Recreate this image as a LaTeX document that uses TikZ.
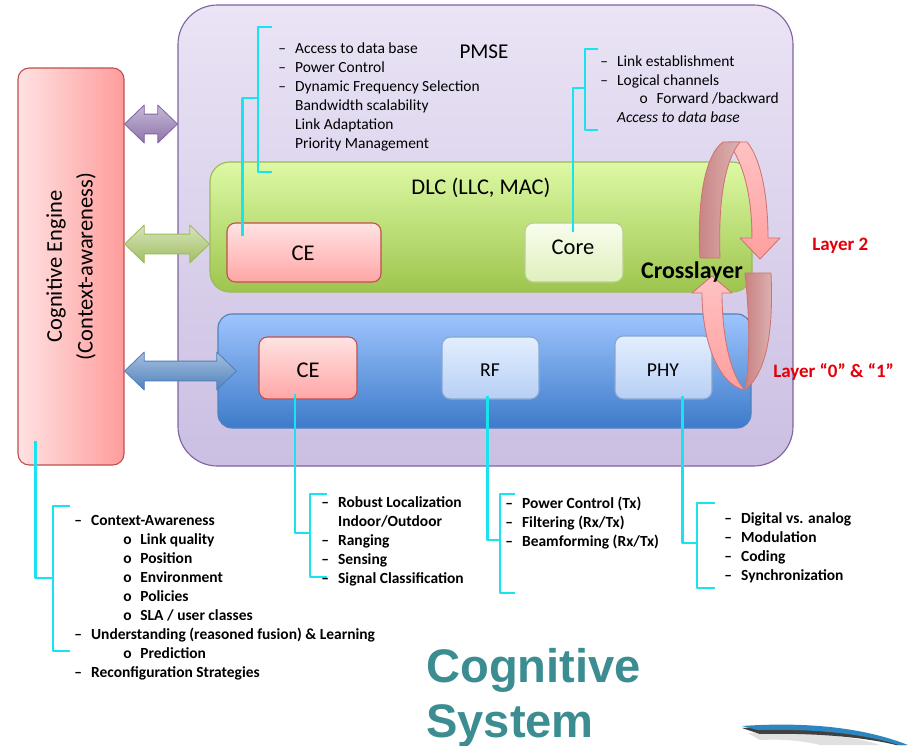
\documentclass[tikz,border=0pt]{standalone}
\usepackage{fontspec}
\setmainfont{Carlito}
\newfontfamily\titlefont{Liberation Sans}
\usetikzlibrary{fit,calc}

\definecolor{pmseTop}{HTML}{EAE4F5}
\definecolor{pmseBot}{HTML}{CBBFE2}
\definecolor{pmseEdge}{HTML}{8064A2}
\definecolor{engL}{HTML}{FFE2E2}
\definecolor{engR}{HTML}{FF9C9C}
\definecolor{redEdge}{HTML}{C0504D}
\definecolor{dlcTop}{HTML}{DDF9A4}
\definecolor{dlcBot}{HTML}{9DC54E}
\definecolor{dlcEdge}{HTML}{9BBB59}
\definecolor{ceTop}{HTML}{FFE3E3}
\definecolor{ceBot}{HTML}{FFA6A6}
\definecolor{coreTop}{HTML}{F8FDEE}
\definecolor{coreBot}{HTML}{DFF0BD}
\definecolor{bluTop}{HTML}{9EC4FD}
\definecolor{bluBot}{HTML}{3D7BCA}
\definecolor{bluEdge}{HTML}{4F81BD}
\definecolor{phyTop}{HTML}{E3EEFE}
\definecolor{phyBot}{HTML}{B7CFF5}
\definecolor{cyanLn}{HTML}{1AE3F0}
\definecolor{loopLt}{HTML}{FFC2C2}
\definecolor{loopLt2}{HTML}{FF9F9F}
\definecolor{loopDk}{HTML}{DDB3B3}
\definecolor{loopDk2}{HTML}{C98282}
\definecolor{layerRed}{HTML}{E3000B}
\definecolor{sysTeal}{HTML}{3B8D92}
\definecolor{swoosh}{HTML}{2E86C1}

\tikzset{
  box/.style={draw, line width=0.8pt, inner sep=0pt},
  pmsebox/.style={box, draw=pmseEdge, top color=pmseTop, bottom color=pmseBot, rounded corners=28pt},
  engbox/.style={box, draw=redEdge, left color=engL, right color=engR, rounded corners=8pt},
  dlcbox/.style={box, draw=dlcEdge, top color=dlcTop, bottom color=dlcBot, rounded corners=14pt},
  blubox/.style={box, draw=bluEdge, top color=bluTop, bottom color=bluBot, rounded corners=10pt},
  cebox/.style={box, draw=redEdge, top color=ceTop, bottom color=ceBot, rounded corners=6pt},
  corebox/.style={box, draw=dlcEdge!70, top color=coreTop, bottom color=coreBot, rounded corners=6pt},
  phybox/.style={box, draw=bluEdge!70, top color=phyTop, bottom color=phyBot, rounded corners=6pt},
  boxtxt/.style={inner sep=0pt, font=\fontsize{16}{18}\selectfont},
  smalltxt/.style={inner sep=0pt, font=\fontsize{14}{16}\selectfont},
  purparr/.style={draw=pmseEdge, line width=0.6pt, top color=pmseEdge!45, bottom color=pmseEdge!90},
  grnarr/.style={draw=dlcEdge, line width=0.6pt, top color=dlcEdge!40, bottom color=dlcEdge!95},
  bluarr/.style={draw=bluEdge, line width=0.6pt, top color=bluEdge!50, bottom color=bluEdge},
  loopfront/.style={draw=redEdge!80, line width=0.6pt, top color=loopLt, bottom color=loopLt2},
  loopback/.style={draw=redEdge!80, line width=0.6pt, left color=loopDk2, right color=loopDk},
  brk/.style={draw=cyanLn, line width=1.6pt},
  lst/.style={anchor=base west, align=left, inner sep=0pt, font=\fontsize{11}{13.5}\selectfont},
  blst/.style={lst, font=\fontsize{11}{13.5}\selectfont\bfseries},
  layertxt/.style={anchor=west, inner sep=0pt, text=layerRed, font=\fontsize{13.5}{15}\selectfont\bfseries},
}

% list lines: dash item, plain indented line, sub bullet
\newcommand\dln[1]{\makebox[12pt][l]{–}#1}
\newcommand\pln[1]{\hspace*{12pt}#1}
\newcommand\oln[2][35pt]{\hspace*{#1}\makebox[12pt][l]{o}#2}
% double block arrow between two points
\newcommand\dblarrow[3]{%
  \path[#1] let \p1=#2, \p2=#3 in
    (\x1,\y1) -- (\x1+14pt,\y1+13.5pt) -- (\x1+14pt,\y1+7pt) -- (\x2-14pt,\y1+7pt)
    -- (\x2-14pt,\y1+13.5pt) -- (\x2,\y1) -- (\x2-14pt,\y1-13.5pt) -- (\x2-14pt,\y1-7pt)
    -- (\x1+14pt,\y1-7pt) -- (\x1+14pt,\y1-13.5pt) -- cycle;}

\begin{document}
\begin{tikzpicture}[x=0.025cm, y=-0.025cm, line join=round]
\useasboundingbox[fill=white] (0,0) rectangle (914,745);
% PMSE frame and cognitive engine
\node[pmsebox, fit={(178,5) (793,466)}] (pmse) {};
\node[font=\fontsize{15}{17}\selectfont] (pmseTxt) at (484,52) {PMSE};
\node[engbox, fit={(18,68) (124,465)}] (cogeng) {};
\node[rotate=90, align=center, font=\fontsize{16}{22}\selectfont] (cogTxt) at (cogeng.center) {Cognitive Engine\\(Context-awareness)};
% layer 2
\node[dlcbox, fit={(210,162) (752,292)}] (dlc) {};
\node[font=\fontsize{16}{18}\selectfont] (dlcTxt) at (481,188) {DLC (LLC, MAC)};
\node[cebox, fit={(227,223) (381,282)}] (ceDlc) {};
\node[boxtxt] (ceDlcTxt) at (303,253) {CE};
\node[corebox, fit={(525,223) (623,282)}] (core) {};
\node[boxtxt] (coreTxt) at (573,247) {Core};
% layer 0 & 1
\node[blubox, fit={(218,314) (751,428)}] (phyl) {};
\node[cebox, fit={(259,337) (357,399)}] (ceBlu) {};
\node[boxtxt] (ceBluTxt) at (308,370) {CE};
\node[phybox, fit={(442,337) (539,399)}] (rf) {};
\node[smalltxt] (rfTxt) at (490,370) {RF};
\node[phybox, fit={(615,336) (712,399)}] (phy) {};
\node[smalltxt] (phyTxt) at (663,370) {PHY};
% arrows to the engine
\dblarrow{purparr}{(cogeng.east |- 0,124)}{(pmse.west |- 0,124)}
\dblarrow{grnarr}{(cogeng.east |- 0,244)}{(dlc.west |- 0,244)}
\dblarrow{bluarr}{(cogeng.east |- 0,371)}{($(phyl.west |- 0,371)+(19,0)$)}
% crosslayer loops
\path[loopfront] (728,142) -- (747,142) .. controls (762,160) and (768,200) .. (768,238) -- (780,238) -- (760,259) -- (740,238) -- (752,238) .. controls (752,200) and (745,165) .. (728,142) -- cycle;
\path[loopback] (700,258) .. controls (697,200) and (705,155) .. (723,142) -- (740,142) .. controls (725,160) and (718,200) .. (720,258) -- cycle;
\path[loopback] (745,273) -- (771,273) .. controls (773,320) and (770,370) .. (745,390) .. controls (750,360) and (750,320) .. (745,273) -- cycle;
\path[loopfront] (745,390) .. controls (718,385) and (702,340) .. (702,293) -- (692,293) -- (712,276) -- (732,293) -- (722,293) .. controls (722,340) and (732,378) .. (745,390) -- cycle;
\node[font=\fontsize{17}{19}\selectfont\bfseries] (cross) at (692,272) {Crosslayer};
\node[layertxt] (lay2) at (812,246) {Layer 2};
\node[layertxt] (lay01) at (773,372) {Layer “0” \& “1”};
% brackets and lists (lists sit on their last line)
\coordinate (brA) at (258,98);
\draw[brk] ($(ceDlc.north west)+(16,14)$) |- (brA);
\draw[brk] (272,27) -- (258,27) -- (258,172) -- (272,172);
\node[lst] (dlcList) at (278,148) {\dln{Access to data base}\\ \dln{Power Control}\\ \dln{Dynamic Frequency Selection}\\ \pln{Bandwidth scalability}\\ \pln{Link Adaptation}\\ \pln{Priority Management}};
\coordinate (brB) at (585,88);
\draw[brk] ($(core.north)+(-1,10)$) |- (brB);
\draw[brk] (598,49) -- (585,49) -- (585,130) -- (598,130);
\node[lst, font=\fontsize{11}{13.1}\selectfont] (coreList) at (600,122) {\dln{Link establishment}\\ \dln{Logical channels}\\ \oln[28pt]{Forward /backward}\\ \pln{\textit{Access to data base}}};
\coordinate (brC) at (53,578);
\draw[brk] ($(cogeng.south west)+(18,-25)$) |- (brC);
\draw[brk] (70,506) -- (53,506) -- (53,651) -- (70,651);
\node[blst] (engList) at (74,677) {\dln{Context-Awareness}\\ \oln{Link quality}\\ \oln{Position}\\ \oln{Environment}\\ \oln{Policies}\\ \oln{SLA / user classes}\\ \dln{Understanding (reasoned fusion) \& Learning}\\ \oln{Prediction}\\ \dln{Reconfiguration Strategies}};
\coordinate (brD) at (310,533);
\draw[brk] ($(ceBlu.south)+(-13,-6)$) |- (brD);
\draw[brk] (327,494) -- (310,494) -- (310,577) -- (327,577);
\node[blst] (ceList) at (321,583) {\dln{Robust Localization}\\ \pln{Indoor/Outdoor}\\ \dln{Ranging}\\ \dln{Sensing}\\ \dln{Signal Classification}};
\coordinate (brE) at (500,540);
\draw[brk] ($(rf.south)+(-3,-4)$) |- (brE);
\draw[brk] (515,494) -- (500,494) -- (500,593) -- (515,593);
\node[blst] (rfList) at (505,546) {\dln{Power Control (Tx)}\\ \dln{Filtering (Rx/Tx)}\\ \dln{Beamforming (Rx/Tx)}};
\coordinate (brF) at (697,543);
\draw[brk] ($(phy.south)+(19,-4)$) |- (brF);
\draw[brk] (715,503) -- (697,503) -- (697,588) -- (715,588);
\node[blst] (phyList) at (724,580) {\dln{Digital vs. analog}\\ \dln{Modulation}\\ \dln{Coding}\\ \dln{Synchronization}};
% title and swoosh
\node[anchor=base west, align=left, inner sep=0pt, text=sysTeal, font=\titlefont\fontsize{33.5}{39}\selectfont\bfseries] (sysTxt) at (426,737) {Cognitive\\System};
\fill[black!12] (748,733) .. controls (800,731) and (850,735) .. (880,745) -- (820,745) .. controls (800,740) and (780,739) .. (760,740) -- cycle;
\fill[black!75] (742,728) .. controls (800,724) and (860,729) .. (905,745) -- (896,745) .. controls (855,735) and (800,733) .. (760,734) -- cycle;
\fill[swoosh] (742,726) .. controls (800,722) and (860,726) .. (908,745) -- (899,745) .. controls (855,731) and (800,729) .. (758,730) -- cycle;
\end{tikzpicture}
\end{document}
